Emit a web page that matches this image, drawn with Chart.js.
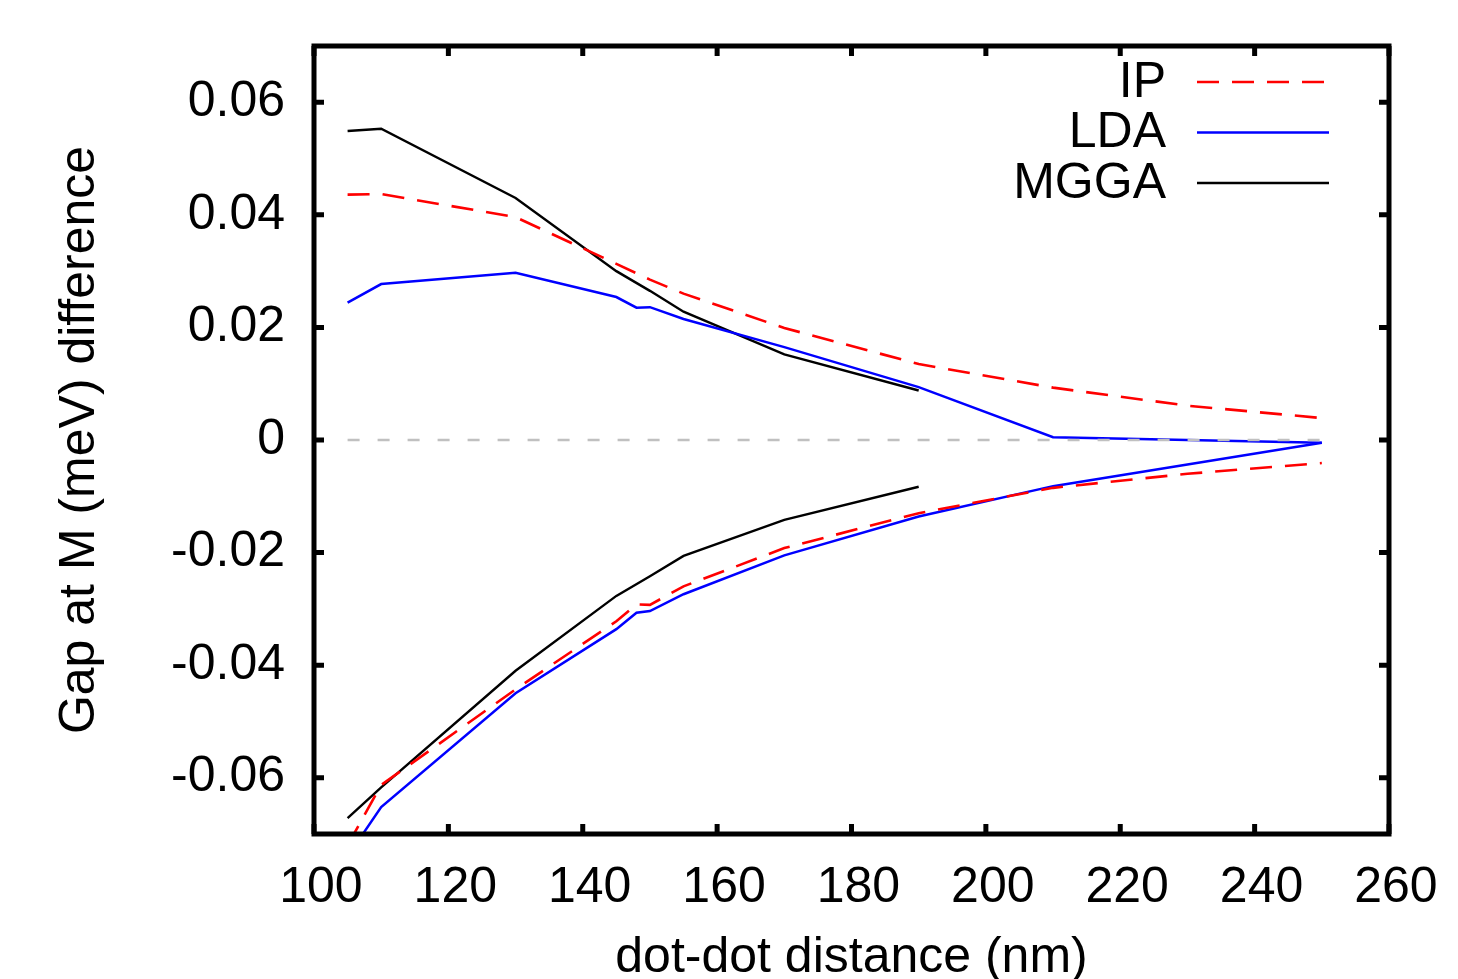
<!DOCTYPE html>
<html>
<head>
<meta charset="utf-8">
<script src="https://cdn.jsdelivr.net/npm/chart.js@4"></script>
<style>
	html, body { margin: 0; padding: 0; background: #fff; }
	canvas { display: block; }
</style>
</head>
<body>
<canvas id="chart" width="1458" height="979"></canvas>
<script>
// values
const ipUpX = [105, 110, 130, 145, 150, 155, 170, 190, 210, 230, 250];
const ipUpY = [0.0436, 0.0437, 0.0396, 0.0313, 0.0285, 0.026, 0.0199, 0.0135, 0.0093, 0.0061, 0.0039];
const ipLowX = [105, 110, 130, 145, 148, 150, 155, 170, 190, 210, 230, 250];
const ipLowY = [-0.072, -0.0613, -0.0443, -0.0322, -0.0292, -0.0293, -0.026, -0.0192, -0.013, -0.0085, -0.006, -0.0041];

const ldaX = [105, 110, 130, 145, 148, 150, 155, 170, 190, 210, 250];
const ldaUpY = [0.0244, 0.0277, 0.0297, 0.0254, 0.0235, 0.0236, 0.0215, 0.0165, 0.0094, 0.0005, -0.0005];
const ldaLowY = [-0.074, -0.0652, -0.045, -0.0336, -0.0307, -0.0304, -0.0274, -0.0205, -0.0136, -0.0082, -0.0005];

const mggaX = [105, 110, 130, 145, 150, 155, 170, 190];
const mggaUpY = [0.0549, 0.0553, 0.043, 0.030, 0.0265, 0.0228, 0.0152, 0.0088];
const mggaLowY = [-0.0672, -0.0617, -0.041, -0.0277, -0.0242, -0.0206, -0.0142, -0.0083];

const zeroX = [105, 250];
const zeroY = [0, 0];

const xTicks = [100, 120, 140, 160, 180, 200, 220, 240, 260];
const yTicks = [-0.06, -0.04, -0.02, 0, 0.02, 0.04, 0.06];

const FONT = '"Liberation Sans", Arial, Helvetica, sans-serif';
const FSIZE = 50;

const pts = (xs, ys) => xs.map((x, i) => ({ x: x, y: ys[i] }));

const IP_STYLE = { borderColor: '#ff0000', borderWidth: 2.6, borderDash: [22, 13] };
const LDA_STYLE = { borderColor: '#0000ff', borderWidth: 2.5, borderDash: [] };
const MGGA_STYLE = { borderColor: '#000000', borderWidth: 2.4, borderDash: [] };

const datasets = [
	{ label: 'zero', data: pts(zeroX, zeroY), borderColor: '#c0c0c0', borderWidth: 2.4, borderDash: [12, 18] },
	Object.assign({ label: 'IP', data: pts(ipUpX, ipUpY) }, IP_STYLE),
	Object.assign({ label: 'IP', data: pts(ipLowX, ipLowY) }, IP_STYLE),
	Object.assign({ label: 'LDA', data: pts(ldaX, ldaUpY) }, LDA_STYLE),
	Object.assign({ label: 'LDA', data: pts(ldaX, ldaLowY) }, LDA_STYLE),
	Object.assign({ label: 'MGGA', data: pts(mggaX, mggaUpY) }, MGGA_STYLE),
	Object.assign({ label: 'MGGA', data: pts(mggaX, mggaLowY) }, MGGA_STYLE)
];
datasets.forEach(d => { d.pointRadius = 0; d.fill = false; d.tension = 0; });

// frame with inward ticks on all four sides, plus the key in the top right
const framePlugin = {
	id: 'frame',
	afterDatasetsDraw(chart) {
		const { ctx, chartArea: a, scales } = chart;
		const tl = 10;
		ctx.save();
		ctx.strokeStyle = '#000';
		ctx.lineWidth = 5;
		ctx.setLineDash([]);
		ctx.beginPath();
		xTicks.forEach(v => {
			const px = scales.x.getPixelForValue(v);
			ctx.moveTo(px, a.bottom); ctx.lineTo(px, a.bottom - tl);
			ctx.moveTo(px, a.top); ctx.lineTo(px, a.top + tl);
		});
		yTicks.forEach(v => {
			const py = scales.y.getPixelForValue(v);
			ctx.moveTo(a.left, py); ctx.lineTo(a.left + tl, py);
			ctx.moveTo(a.right, py); ctx.lineTo(a.right - tl, py);
		});
		ctx.stroke();
		ctx.strokeRect(a.left, a.top, a.right - a.left, a.bottom - a.top);

		// key
		const seen = [];
		chart.data.datasets.forEach(d => {
			if (d.label !== 'zero' && !seen.find(s => s.label === d.label)) seen.push(d);
		});
		ctx.font = FSIZE + 'px ' + FONT;
		ctx.textAlign = 'right';
		ctx.textBaseline = 'middle';
		seen.forEach((d, i) => {
			const y = 82 + i * 50.5;
			ctx.fillStyle = '#000';
			ctx.fillText(d.label, 1166, y + 1);
			ctx.strokeStyle = d.borderColor;
			ctx.lineWidth = d.borderWidth;
			ctx.setLineDash(d.borderDash);
			ctx.beginPath();
			ctx.moveTo(1197, y);
			ctx.lineTo(1329, y);
			ctx.stroke();
		});
		ctx.restore();
	}
};

const noPad = s => { s.paddingTop = 0; s.paddingBottom = 0; s.paddingLeft = 0; s.paddingRight = 0; };

new Chart(document.getElementById('chart'), {
	type: 'line',
	data: { datasets: datasets },
	options: {
		responsive: false,
		animation: false,
		devicePixelRatio: 1,
		layout: { padding: { top: 46, right: 69, left: 0, bottom: 0 } },
		plugins: {
			legend: { display: false },
			tooltip: { enabled: false }
		},
		scales: {
			x: {
				type: 'linear',
				min: 100,
				max: 260,
				grid: { display: false, drawTicks: false },
				border: { display: false },
				afterBuildTicks: s => { s.ticks = xTicks.map(v => ({ value: v })); },
				afterFit: s => { s.height = 145; noPad(s); },
				ticks: {
					autoSkip: false,
					maxRotation: 0,
					padding: 24,
					color: '#000',
					font: { family: FONT, size: FSIZE },
					// gnuplot sets these a few pixels right of the tick
					callback: v => ' ' + v
				},
				title: {
					display: true,
					text: 'dot-dot distance (nm)',
					color: '#000',
					font: { family: FONT, size: FSIZE },
					padding: { top: 0, bottom: -9 }
				}
			},
			y: {
				type: 'linear',
				min: -0.07,
				max: 0.07,
				grid: { display: false, drawTicks: false },
				border: { display: false },
				afterBuildTicks: s => { s.ticks = yTicks.map(v => ({ value: v })); },
				afterFit: s => { s.width = 314; noPad(s); },
				ticks: {
					padding: 29,
					color: '#000',
					font: { family: FONT, size: FSIZE },
					callback: v => (Math.abs(v) < 1e-9 ? '0' : v.toFixed(2))
				},
				title: {
					display: true,
					text: 'Gap at M (meV) difference',
					color: '#000',
					font: { family: FONT, size: FSIZE },
					padding: { top: 50, bottom: 0 }
				}
			}
		}
	},
	plugins: [framePlugin]
});
</script>
</body>
</html>
